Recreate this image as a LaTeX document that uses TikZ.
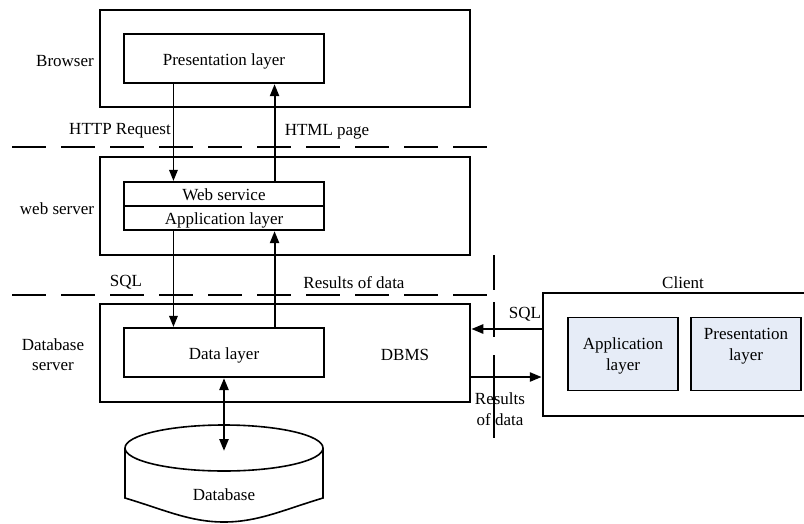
\documentclass[tikz,border=0pt]{standalone}
\usepackage{fontspec}
\setmainfont{Liberation Serif}
\usetikzlibrary{arrows.meta,calc}
\definecolor{boxfill}{RGB}{230,236,247}
\begin{document}
\begin{tikzpicture}[x=1pt,y=-1pt,
  font=\fontsize{17}{20.5}\selectfont,
  outerbox/.style={draw, line width=2.6pt, minimum width=370pt, minimum height=98pt, inner sep=0pt},
  innerbox/.style={draw, line width=2.2pt, minimum width=200pt, inner sep=0pt, text height=14pt, text depth=1pt},
  clientbox/.style={draw, line width=1.8pt, fill=boxfill, minimum width=110pt, minimum height=73pt, inner sep=0pt},
  lbl/.style={inner sep=0pt, align=center, yshift=-1.5pt},
  thinarr/.style={line width=1.5pt, -{Triangle[length=11pt,width=8.5pt]}},
  thickarr/.style={line width=2.1pt, -{Triangle[length=12pt,width=9pt]}},
  sep/.style={line width=2.5pt, dash pattern=on 34pt off 15pt},
  vsep/.style={line width=1.4pt}
]
\useasboundingbox (0,0) rectangle (804,523);
\clip (0,0) rectangle (804,523);
\fill[white] (0,0) rectangle (804,523);

% separators
\draw[sep] (12,147) -- (500,147);
\draw[sep] (12,295) -- (497,295);
\coordinate (v1a) at (494,255); \coordinate (v1b) at (494,290);
\coordinate (v2a) at (494,302); \coordinate (v2b) at (494,337);
\coordinate (v3a) at (494,355); \coordinate (v3b) at (494,438);
\draw[vsep] (v1a) -- (v1b);
\draw[vsep] (v2a) -- (v2b);
\draw[vsep] (v3a) -- (v3b);

% browser tier
\node[outerbox, minimum height=97pt] (browser) at (285,58.5) {};
\node[innerbox, minimum height=49pt] (pres) at (224,58.5) {Presentation layer};
\node[lbl] (browserlbl) at (65,60) {Browser};

% web server tier
\node[outerbox] (web) at (285,206) {};
\node[innerbox, minimum height=24pt, text height=13pt, text depth=0pt] (ws) at (224,194) {Web service};
\node[innerbox, minimum height=24pt, text height=13pt, text depth=0pt] (app) at (224,218) {Application layer};
\node[lbl] (weblbl) at (57,207) {web server};

% database tier
\node[outerbox] (dbs) at (285,353) {};
\node[innerbox, minimum height=49pt] (data) at (224,352.5) {Data layer};
\node[lbl] (dbms) at (405,353) {DBMS};
\node[lbl] (dbslbl) at (53,353) {Database\\server};

% database cylinder
\draw[line width=1.6pt] (125,448) -- (125,498)
  .. controls (165,510) and (190,522) .. (224,522)
  .. controls (258,522) and (283,510) .. (323,498) -- (323,448);
\draw[line width=1.6pt] (224,448) ellipse [x radius=99pt, y radius=23pt];
\node[lbl] (dbtext) at (224,493) {Database};
\coordinate (dbtop) at (224,451);

% vertical connectors
\draw[thinarr] ($(pres.south west)!0.25!(pres.south east)$) -- ($(ws.north west)!0.25!(ws.north east)$);
\draw[thickarr] ($(ws.north west)!0.75!(ws.north east)$) -- ($(pres.south west)!0.75!(pres.south east)$);
\draw[thinarr] ($(app.south west)!0.25!(app.south east)$) -- ($(data.north west)!0.25!(data.north east)$);
\draw[thickarr] ($(data.north west)!0.75!(data.north east)$) -- ($(app.south west)!0.75!(app.south east)$);
\draw[line width=2.5pt, {Triangle[length=12pt,width=9pt]}-{Triangle[length=12pt,width=9pt]}] (data.south) -- (dbtop);

\node[lbl] (http) at (120,129) {HTTP Request};
\node[lbl] (html) at (327,130) {HTML page};
\node[lbl] (sql1) at (126,281) {SQL};
\node[lbl] (res1) at (354,281) {Results of data};

% client
\node[draw, line width=2.5pt, minimum width=280pt, minimum height=123pt, inner sep=0pt] (client) at (683,354.5) {};
\node[lbl] (clientlbl) at (683,281) {Client};
\node[clientbox] (capp) at (623,354) {};
\node[lbl] (capptext) at (623,354.5) {Application\\layer};
\node[clientbox] (cpres) at (746,354) {};
\node[lbl] (cprestext) at (746,344.5) {Presentation\\layer};

\draw[thickarr, line width=2.5pt] (client.west |- 0,329) -- (dbs.east |- 0,329);
\draw[thickarr, line width=2.5pt] (dbs.east |- 0,377) -- (client.west |- 0,377);
\node[lbl] (sql2) at (525,313) {SQL};
\node[lbl] (res2) at (500,407.5) {Results\\of data};
\end{tikzpicture}
\end{document}
